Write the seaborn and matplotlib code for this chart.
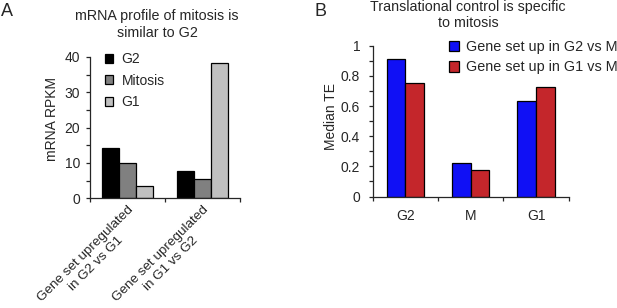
import matplotlib
matplotlib.use("Agg")
import matplotlib.pyplot as plt
import seaborn as sns
import pandas as pd
import numpy as np

# ---- data ----
a_categories = ["Gene set upregulated\nin G2 vs G1", "Gene set upregulated\nin G1 vs G2"]
a_phases = ["G2", "Mitosis", "G1"]
a_g2 = [14.1, 7.7]
a_mitosis = [10.1, 5.4]
a_g1 = [3.6, 38.3]
a_colors = ["#000000", "#808080", "#c0c0c0"]

b_categories = ["G2", "M", "G1"]
b_sets = ["Gene set up in G2 vs M", "Gene set up in G1 vs M"]
b_up_g2 = [0.915, 0.22, 0.63]
b_up_g1 = [0.75, 0.175, 0.723]
b_colors = ["#1010f5", "#c4262b"]

a_yticks = [0, 10, 20, 30, 40]
b_yticks = [0, 0.2, 0.4, 0.6, 0.8, 1.0]
b_yticklabels = ["0", "0.2", "0.4", "0.6", "0.8", "1"]

sns.set_style("ticks")
plt.rcParams["font.family"] = ["Liberation Sans", "DejaVu Sans"]
plt.rcParams["axes.linewidth"] = 0.9

FS = 10

fig = plt.figure(figsize=(6.17, 3.08), dpi=100)

# ---------------- Panel A ----------------
dfa = pd.DataFrame({
    "cat": a_categories * 3,
    "phase": sum([[p] * len(a_categories) for p in a_phases], []),
    "val": a_g2 + a_mitosis + a_g1,
})
axA = fig.add_axes([90 / 617, 1 - 198.3 / 308, 150 / 617, 141.3 / 308])
sns.barplot(data=dfa, x="cat", y="val", hue="phase", hue_order=a_phases,
            palette=a_colors, order=a_categories, width=0.68, ax=axA,
            edgecolor="black", linewidth=0.9, saturation=1, errorbar=None)
axA.set_xlim(-0.5, 1.5)
axA.set_ylim(0, 40)
axA.set_yticks(a_yticks)
axA.set_yticks([5, 15, 25, 35], minor=True)
axA.set_xticks([0, 1])
axA.set_xticklabels(a_categories, rotation=45, ha="right", va="top",
                    rotation_mode="anchor", multialignment="center", fontsize=9.7)
axA.set_xticks([-0.5, 0.5, 1.5], minor=True)
axA.tick_params(axis="x", which="major", length=0, pad=4)
axA.tick_params(axis="x", which="minor", length=3, width=0.9, direction="out")
axA.tick_params(axis="y", which="both", length=3, width=0.9, labelsize=FS, pad=4)
axA.set_xlabel("")
axA.set_ylabel("mRNA RPKM", fontsize=FS)
axA.yaxis.set_label_coords(-0.207, 0.56)
for s in ["top", "right"]:
    axA.spines[s].set_visible(False)
h, l = axA.get_legend_handles_labels()
axA.legend(h, l, loc="upper left", bbox_to_anchor=(105 / 617, 1 - 52 / 308),
           bbox_transform=fig.transFigure, frameon=False, fontsize=FS,
           handlelength=0.6, handleheight=0.6, handletextpad=0.6,
           labelspacing=0.55, borderpad=0, borderaxespad=0)

fig.text(157 / 617, 1 - 24.5 / 308, "mRNA profile of mitosis is\nsimilar to G2",
         ha="center", va="center", fontsize=10.3, linespacing=1.2)
fig.text(7 / 617, 1 - 11 / 308, "A", ha="center", va="center", fontsize=13)

# ---------------- Panel B ----------------
dfb = pd.DataFrame({
    "cat": b_categories * 2,
    "set": sum([[s] * len(b_categories) for s in b_sets], []),
    "val": b_up_g2 + b_up_g1,
})
axB = fig.add_axes([372.7 / 617, 1 - 196.5 / 308, 196 / 617, 150.8 / 308])
sns.barplot(data=dfb, x="cat", y="val", hue="set", hue_order=b_sets,
            palette=b_colors, order=b_categories, width=0.57, ax=axB,
            edgecolor="black", linewidth=0.9, saturation=1, errorbar=None)
axB.set_xlim(-0.5, 2.5)
axB.set_ylim(0, 1)
axB.set_yticks(b_yticks)
axB.set_yticklabels(b_yticklabels)
axB.set_yticks(np.arange(0.1, 1.0, 0.2), minor=True)
axB.set_xticks([0, 1, 2])
axB.set_xticklabels(b_categories, fontsize=FS)
axB.set_xticks([-0.5, 0.5, 1.5, 2.5], minor=True)
axB.tick_params(axis="x", which="major", length=0, pad=9)
axB.tick_params(axis="x", which="minor", length=3, width=0.9, direction="out")
axB.tick_params(axis="y", which="both", length=3, width=0.9, labelsize=FS, pad=6)
axB.set_xlabel("")
axB.set_ylabel("Median TE", fontsize=FS)
axB.yaxis.set_label_coords(-0.177, 0.529)
for s in ["top", "right"]:
    axB.spines[s].set_visible(False)
h, l = axB.get_legend_handles_labels()
axB.legend(h, l, loc="upper left", bbox_to_anchor=(449 / 617, 1 - 40 / 308),
           bbox_transform=fig.transFigure, frameon=False, fontsize=10.4,
           handlelength=0.7, handleheight=0.7, handletextpad=0.45,
           labelspacing=0.45, borderpad=0, borderaxespad=0)

fig.text(468 / 617, 1 - 15.3 / 308, "Translational control is specific\nto mitosis",
         ha="center", va="center", fontsize=10.3, linespacing=1.2)
fig.text(321 / 617, 1 - 11 / 308, "B", ha="center", va="center", fontsize=13)

fig.savefig("out.png", dpi=100)
